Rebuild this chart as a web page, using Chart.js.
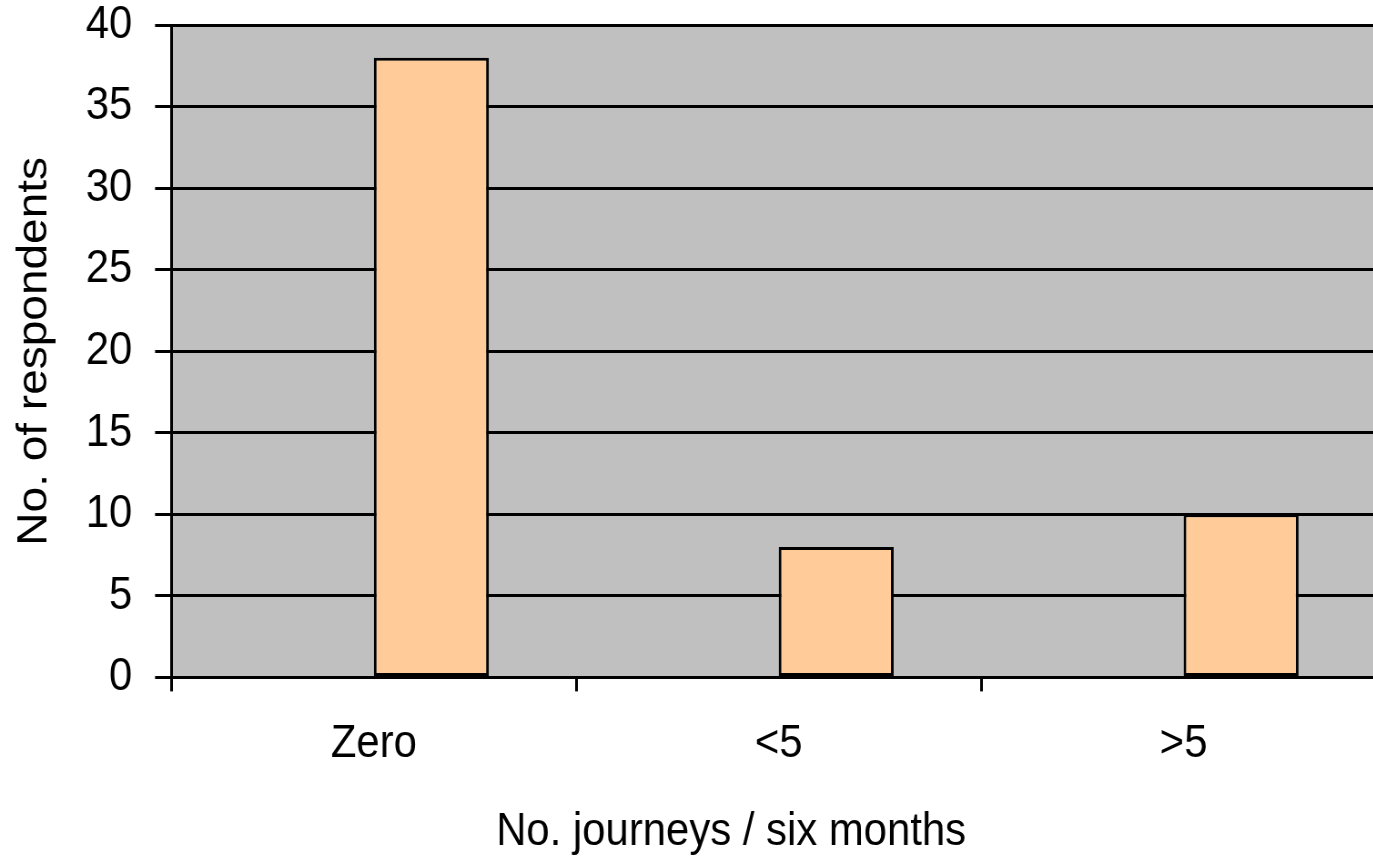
<!DOCTYPE html>
<html>
<head>
<meta charset="utf-8">
<script src="https://cdn.jsdelivr.net/npm/chart.js@4.4.1/dist/chart.umd.min.js"></script>
<style>
  html, body { margin: 0; padding: 0; background: #fff; overflow: hidden; }
  #chart { display: block; }
</style>
</head>
<body>
<!-- the reference is squeezed sideways a little, so the canvas is drawn wider and shown narrower -->
<canvas id="chart" width="1523" height="856" style="width:1386px;height:856px"></canvas>
<script>
const categories = ['Zero', '<5', '>5'];
const respondents = [38, 8, 10];
const emptySeries = [null, null, null]; // hidden first series, pushes the bars right of centre
const yTicks = [0, 5, 10, 15, 20, 25, 30, 35, 40];
const yTitle = 'No. of respondents';
const xTitle = 'No. journeys / six months';

const FONT = '"Liberation Sans", Arial, sans-serif';

// grey plot area
const plotBg = {
  id: 'plotBg',
  beforeDraw(chart) {
    const { ctx, chartArea: a } = chart;
    ctx.save();
    ctx.fillStyle = '#c0c0c0';
    ctx.fillRect(a.left, a.top, a.right - a.left, a.bottom - a.top);
    ctx.restore();
  }
};

// x title sits left of the plot centre in the original
const xTitlePlugin = {
  id: 'xTitle',
  afterDraw(chart) {
    const { ctx, chartArea: a } = chart;
    ctx.save();
    ctx.font = '46px ' + FONT;
    ctx.fillStyle = '#000';
    ctx.textAlign = 'center';
    ctx.textBaseline = 'alphabetic';
    ctx.fillText(xTitle, a.left + 615, 845);
    ctx.restore();
  }
};

new Chart(document.getElementById('chart'), {
  type: 'bar',
  data: {
    labels: categories,
    datasets: [
      { data: emptySeries },
      {
        data: respondents,
        backgroundColor: '#ffcc99',
        borderColor: '#000',
        borderWidth: 3,
        borderSkipped: false
      }
    ]
  },
  options: {
    responsive: false,
    animation: false,
    categoryPercentage: 0.568,
    barPercentage: 1,
    layout: { padding: { left: 11, top: 0, right: 0, bottom: 58 } },
    plugins: { legend: { display: false }, tooltip: { enabled: false } },
    scales: {
      x: {
        grid: { drawOnChartArea: false, drawTicks: true, tickLength: 14, color: '#000', lineWidth: 3 },
        border: { color: '#000', width: 3 },
        ticks: { color: '#000', padding: 28, font: { family: FONT, size: 46, lineHeight: 1.1 } }
      },
      y: {
        min: 0,
        max: 40,
        afterBuildTicks: s => { s.ticks = yTicks.map(v => ({ value: v })); },
        grid: { color: '#000', lineWidth: 3, tickLength: 18 },
        border: { color: '#000', width: 3 },
        // tiny lineHeight keeps the top label from pushing the plot down
        ticks: { color: '#000', padding: 25, font: { family: FONT, size: 46, lineHeight: 0.01 } },
        title: {
          display: true,
          text: yTitle,
          color: '#000',
          font: { family: FONT, size: 46, lineHeight: 1.2 },
          padding: { top: 0, bottom: 3 }
        }
      }
    }
  },
  plugins: [plotBg, xTitlePlugin]
});
</script>
</body>
</html>
